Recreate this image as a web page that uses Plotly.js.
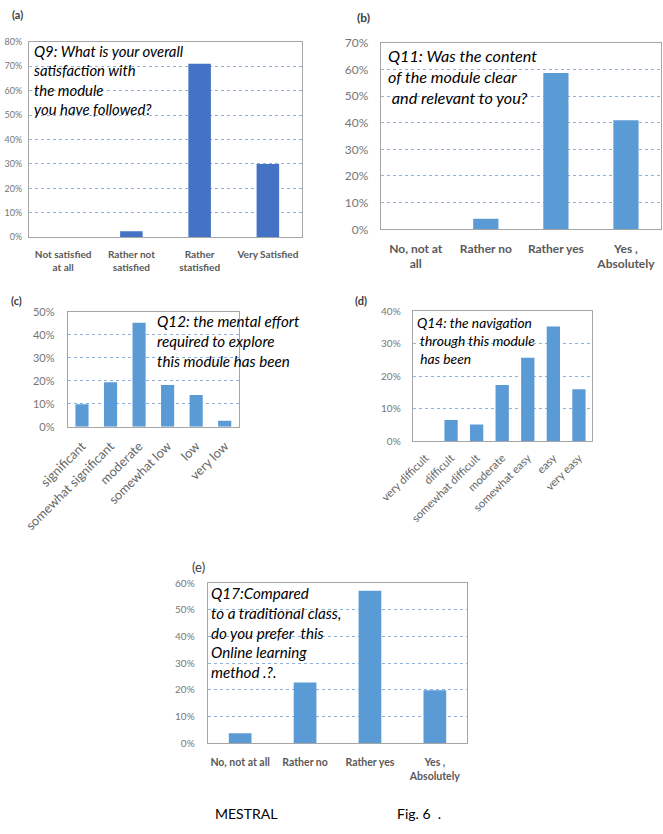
<!DOCTYPE html>
<html><head><meta charset="utf-8">
<script src="https://cdn.plot.ly/plotly-3.0.1.min.js"></script>
<style>html,body{margin:0;padding:0;background:#fff}#chart{width:663px;height:834px}</style>
</head><body><div id="chart"></div>
<script>
// ---- Data ----
const catsA = ["Not satisfied at all", "Rather not satisfied", "Rather statisfied", "Very Satisfied"];
const ticksA = ["Not satisfied<br>at all", "Rather not<br>satisfied", "Rather<br>statisfied", "Very Satisfied"];
const valsA = [0, 2.5, 71, 30];

const catsB = ["No, not at all", "Rather no", "Rather yes", "Yes, Absolutely"];
const ticksB = ["No, not at<br>all", "Rather no", "Rather yes", "Yes ,<br>Absolutely"];
const valsB = [0, 4, 58.6, 40.9];

const catsC = ["significant", "somewhat significant", "moderate", "somewhat low", "low", "very low"];
const valsC = [9.8, 19.3, 45.2, 18.1, 13.8, 2.6];

const catsD = ["very difficult", "difficult", "somewhat difficult", "moderate", "somewhat easy", "easy", "very easy"];
const valsD = [0, 6.5, 5.1, 17.2, 25.6, 35.2, 15.9];

const catsE = ["No, not at all", "Rather no", "Rather yes", "Yes, Absolutely"];
const ticksE = ["No, not at all", "Rather no", "Rather yes", "Yes ,<br>Absolutely"];
const valsE = [3.8, 22.8, 57.2, 19.9];

// ---- Layout helpers ----
const W = 663, H = 834;
const px = x => x / W;
const py = y => 1 - y / H;
const FONT = "Lato, 'Open Sans', sans-serif";
const GRAY = "#595959";
const MGRAY = "#666666";
const LGRAY = "#767676";

function bar(cats, vals, color, n, w) {
  return {type: "bar", x: cats, y: vals, width: w, marker: {color: color},
          xaxis: "x" + (n === 1 ? "" : n), yaxis: "y" + (n === 1 ? "" : n),
          hoverinfo: "x+y", showlegend: false};
}
function xax(x0, x1, y, cats, ticks, fsize, bold, angle, stand) {
  return {domain: [px(x0), px(x1)], anchor: y, type: "category",
          tickmode: "array", tickvals: cats, ticktext: ticks.map(t => bold ? "<b>" + t + "</b>" : t),
          tickangle: angle, showline: true, linecolor: "#a6a6a6", linewidth: 1, mirror: true,
          ticks: "", showgrid: false, zeroline: false, ticklabelstandoff: stand,
          tickfont: {family: FONT, size: fsize, color: bold ? GRAY : MGRAY}, fixedrange: true};
}
function yax(y0, y1, x, max, fsize, stand) {
  return {domain: [py(y1), py(y0)], anchor: x, range: [0, max], dtick: 10, ticksuffix: "%",
          showline: true, linecolor: "#a6a6a6", linewidth: 1, mirror: true,
          showgrid: true, gridcolor: "#8fb0d8", griddash: "dot", gridwidth: 1, zeroline: false,
          ticks: "", ticklabelstandoff: stand,
          tickfont: {family: FONT, size: fsize, color: LGRAY}, fixedrange: true};
}
function note(x, y, text, size, opts) {
  return Object.assign({xref: "paper", yref: "paper", x: px(x), y: py(y), text: text,
          showarrow: false, xanchor: "left", yanchor: "top", align: "left",
          font: {family: FONT, size: size, color: "#000"}}, opts || {});
}

const data = [
  bar(catsA, valsA, "#4472C4", 1, 0.33),
  bar(catsB, valsB, "#5B9BD5", 2, 0.36),
  bar(catsC, valsC, "#5B9BD5", 3, 0.46),
  bar(catsD, valsD, "#5B9BD5", 4, 0.52),
  bar(catsE, valsE, "#5B9BD5", 5, 0.35)
];

const layout = {
  width: W, height: H, margin: {l: 0, r: 0, t: 0, b: 0},
  paper_bgcolor: "#fff", plot_bgcolor: "#fff",
  xaxis: xax(29, 302, "y", catsA, ticksA, 10, true, 0, 8),
  yaxis: yax(41.7, 237.3, "x", 80, 9, 4),
  xaxis2: xax(380.7, 661, "y2", catsB, ticksB, 12, true, 0, 8),
  yaxis2: yax(42.7, 229.3, "x2", 70, 12, 9),
  xaxis3: xax(67.7, 239, "y3", catsC, catsC, 12.8, false, -45, 6),
  yaxis3: yax(311.7, 426.7, "x3", 50, 11, 10),
  xaxis4: xax(412.7, 591.7, "y4", catsD, catsD, 11.2, false, -45, 5),
  yaxis4: yax(311, 441, "x4", 40, 10, 9),
  xaxis5: xax(207.7, 467.3, "y5", catsE, ticksE, 10.5, true, 0, 9),
  yaxis5: yax(583.3, 743.3, "x5", 60, 10, 10),
  annotations: [
    note(10, 6, "<b>(a)</b>", 11, {font: {family: FONT, size: 11, color: "#404040"}}),
    note(32, 40, "<i>Q9: What is your overall<br>satisfaction with<br>the module<br>you have followed?</i>", 14.9),
    note(355, 8, "<b>(b)</b>", 12, {font: {family: FONT, size: 12, color: "#404040"}}),
    note(386, 44, "<i>Q11: Was the content<br>of the module clear<br> and relevant to you?</i>", 16.2),
    note(9, 292, "<b>(c)</b>", 11, {font: {family: FONT, size: 11, color: "#404040"}}),
    note(155, 310, "<i>Q12: the mental effort<br>required to explore<br>this module has been</i>", 15.2),
    note(353, 292, "<b>(d)</b>", 11, {font: {family: FONT, size: 11, color: "#404040"}}),
    note(415, 312, "<i>Q14: the navigation<br> through this module<br> has been</i>", 13.8),
    note(190, 557, "(e)", 13, {font: {family: FONT, size: 13, color: "#404040"}}),
    note(209, 582, "<i>Q17:Compared<br>to a traditional class,<br>do you prefer  this<br>Online learning<br>method .?.</i>", 15.2),
    note(213, 803, "MESTRAL", 14),
    note(395, 803, "Fig. 6  .", 14)
  ]
};

Plotly.newPlot("chart", data, layout, {displayModeBar: false, staticPlot: true});
</script>
</body></html>
